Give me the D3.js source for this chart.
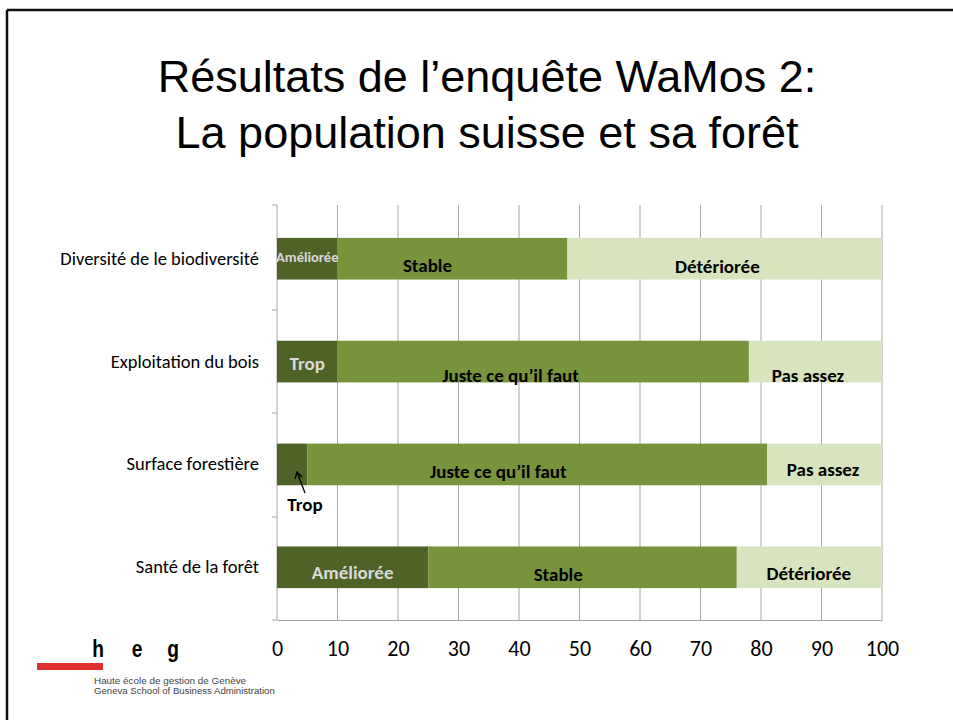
<!DOCTYPE html>
<html><head><meta charset="utf-8">
<script src="https://cdn.jsdelivr.net/npm/d3@7"></script>
<style>body{margin:0;background:#fff}svg{display:block}</style>
</head><body>
<script>
const categories = ["Diversité de le biodiversité","Exploitation du bois","Surface forestière","Santé de la forêt"];
const seg1 = [10, 10, 5, 25];
const seg2 = [38, 68, 76, 51];
const seg3 = [52, 22, 19, 24];
const labels1 = ["Améliorée","Trop","Trop","Améliorée"];
const labels2 = ["Stable","Juste ce qu\u2019il faut","Juste ce qu\u2019il faut","Stable"];
const labels3 = ["Détériorée","Pas assez","Pas assez","Détériorée"];
const xTicks = [0,10,20,30,40,50,60,70,80,90,100];

const W=953,H=720;
const svg=d3.select("body").append("svg").attr("width",W).attr("height",H);
// slide frame
svg.append("line").attr("x1",7).attr("x2",W).attr("y1",10).attr("y2",10).attr("stroke","#111").attr("stroke-width",2.5);
svg.append("line").attr("x1",7).attr("x2",7).attr("y1",10).attr("y2",H).attr("stroke","#111").attr("stroke-width",2.5);

// title
const tf="'Liberation Sans',Arial,sans-serif";
svg.append("text").attr("x",487).attr("y",92).attr("text-anchor","middle").attr("font-family",tf).attr("font-size",45).text("Résultats de l\u2019enquête WaMos 2:");
svg.append("text").attr("x",487).attr("y",148).attr("text-anchor","middle").attr("font-family",tf).attr("font-size",45).text("La population suisse et sa forêt");

const x=d3.scaleLinear().domain([0,100]).range([277,882]);
const y=d3.scaleBand().domain(categories).range([206,620]).paddingInner(0.595).paddingOuter(0.31);

// gridlines
svg.append("g").selectAll("line").data(xTicks.slice(1)).join("line")
  .attr("x1",d=>x(d)).attr("x2",d=>x(d)).attr("y1",205).attr("y2",620)
  .attr("stroke","#a6a6a6").attr("stroke-width",1);

const cf="Carlito,Calibri,'Open Sans',sans-serif";
// x axis
const xa=svg.append("g").attr("transform","translate(0,620)").call(d3.axisBottom(x).tickValues(xTicks).tickSize(0));
xa.select(".domain").attr("stroke","#a6a6a6");
xa.selectAll("text").attr("font-family",cf).attr("font-size",22).attr("fill","#000").attr("dy",null).attr("y",36);
// y axis
const yEdges=[205,310,413,517,620];
svg.append("line").attr("x1",277).attr("x2",277).attr("y1",205).attr("y2",620).attr("stroke","#a6a6a6");
svg.append("g").selectAll("line").data(yEdges).join("line").attr("x1",272).attr("x2",277).attr("y1",d=>d).attr("y2",d=>d).attr("stroke","#a6a6a6");

// category labels
svg.append("g").selectAll("text").data(categories).join("text")
  .attr("x",259).attr("y",d=>y(d)+y.bandwidth()/2+6).attr("text-anchor","end")
  .attr("font-family",cf).attr("font-size",18.5).text(d=>d);

const colors=["#4f6228","#77933c","#d7e4bd"];
const rows=categories.map((c,i)=>{
  const a=seg1[i],b=seg2[i],cc=seg3[i];
  return [{c,x0:0,x1:a,col:colors[0]},{c,x0:a,x1:a+b,col:colors[1]},{c,x0:a+b,x1:a+b+cc,col:colors[2]}];
}).flat();
svg.append("g").selectAll("rect").data(rows).join("rect")
  .attr("x",d=>x(d.x0)).attr("width",d=>x(d.x1)-x(d.x0))
  .attr("y",d=>y(d.c)).attr("height",y.bandwidth()).attr("fill",d=>d.col);

// segment labels
const lab=svg.append("g").attr("font-family",cf).attr("font-weight","bold");
function put(txt,xx,yy,size,fill){lab.append("text").attr("x",xx).attr("y",yy).attr("text-anchor","middle").attr("font-size",size).attr("fill",fill).text(txt);}
const b=i=>y(categories[i]);
// row 0
put(labels1[0], x(seg1[0]/2), b(0)+24, 14.5, "#d9d9d9");
put(labels2[0], x(seg1[0])+90, b(0)+34, 19, "#000");
put(labels3[0], x(seg1[0]+seg2[0])+150, b(0)+35, 19, "#000");
// row 1
put(labels1[1], x(seg1[1]/2), b(1)+29, 19, "#d9d9d9");
put(labels2[1], x(seg1[1])+173, b(1)+41, 19, "#000");
put(labels3[1], x(seg1[1]+seg2[1])+59, b(1)+41, 19, "#000");
// row 2
put(labels2[2], x(seg1[2])+191, b(2)+34, 19, "#000");
put(labels3[2], x(seg1[2]+seg2[2])+56, b(2)+32, 19, "#000");
put(labels1[2], 305, b(2)+67, 19, "#000");
// arrow
lab.append("line").attr("x1",305).attr("y1",493).attr("x2",297).attr("y2",472).attr("stroke","#000").attr("stroke-width",1.3);
lab.append("path").attr("d","M295,479 L297,472 L302,477").attr("fill","none").attr("stroke","#000").attr("stroke-width",1.3);
// row 3
put(labels1[3], x(seg1[3]/2), b(3)+33, 19, "#d9d9d9");
put(labels2[3], x(seg1[3])+130, b(3)+35, 19, "#000");
put(labels3[3], x(seg1[3]+seg2[3])+72, b(3)+34, 19, "#000");

// logo
const lg=svg.append("g");
[["h",98],["e",137],["g",173]].forEach(([t,xx])=>{
  lg.append("text").attr("x",xx).attr("y",657).attr("font-family",tf).attr("font-weight","bold").attr("font-size",24)
    .attr("text-anchor","middle").attr("transform",`translate(${xx},0) scale(0.8,1) translate(${-xx},0)`).text(t);
});
lg.append("rect").attr("x",37).attr("y",663).attr("width",66).attr("height",7).attr("fill","#e03030");
lg.append("text").attr("x",94).attr("y",684).attr("font-family",tf).attr("font-size",9.9).attr("fill","#444").text("Haute école de gestion de Genève");
lg.append("text").attr("x",94).attr("y",694).attr("font-family",tf).attr("font-size",9.6).attr("fill","#444").text("Geneva School of Business Administration");
</script>
</body></html>
